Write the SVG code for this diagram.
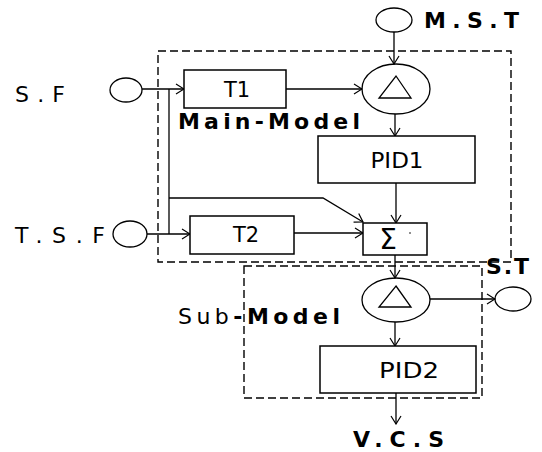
<svg xmlns="http://www.w3.org/2000/svg" width="542" height="452" viewBox="0 0 542 452">
<style>
.box{fill:#fff;stroke:#000;stroke-width:1.5}
.circ{fill:none;stroke:#000;stroke-width:1.3}
.dash{fill:none;stroke:#000;stroke-width:1.4;stroke-dasharray:8 4}
.ln{fill:none;stroke:#000;stroke-width:1.3}
.arr{marker-end:url(#ah)}
.lbl{font-family:"DejaVu Sans","Liberation Sans",sans-serif;font-size:22px;fill:#000}
.b{font-weight:bold}
.in{font-family:"DejaVu Sans","Liberation Sans",sans-serif;font-size:21px;fill:#000;text-anchor:middle}
.sig{font-family:"DejaVu Sans",sans-serif;font-size:28px;fill:#000;text-anchor:middle}
</style>
<defs>
<marker id="ah" markerWidth="10" markerHeight="12" refX="9" refY="6" orient="auto" markerUnits="userSpaceOnUse">
<path d="M1,1 L9,6 L1,11" fill="none" stroke="#000" stroke-width="1.2"/>
</marker>
</defs>
<g id="main-model-frame">
<rect class="dash" x="158" y="51" width="353" height="211"/>
<text class="lbl b" x="178" y="129" textLength="182" lengthAdjust="spacing">Main-Model</text>
</g>
<g id="sub-model-frame">
<rect class="dash" x="244" y="266" width="238" height="132"/>
<text class="lbl" x="178" y="324" textLength="162" lengthAdjust="spacing">Sub<tspan class="b">-Model</tspan></text>
</g>
<g id="connectors">
<path class="ln arr" d="M142,89 H184"/>
<path class="ln" d="M169,89 V234"/>
<path class="ln arr" d="M147,234 H190"/>
<path class="ln arr" d="M169,198 H323 L363,222"/>
<path class="ln arr" d="M286,89 H362"/>
<path class="ln arr" d="M394,32 V64"/>
<path class="ln arr" d="M395,114 V136"/>
<path class="ln arr" d="M396,183 V223"/>
<path class="ln arr" d="M294,233 H363"/>
<path class="ln arr" d="M395,255 V278"/>
<path class="ln arr" d="M430,299 H495"/>
<path class="ln arr" d="M395,322 V346"/>
<path class="ln arr" d="M396,393 V424"/>
</g>
<g id="sf">
<text class="lbl" x="15" y="102" textLength="50" lengthAdjust="spacing">S.F</text>
<ellipse class="circ" cx="126" cy="90" rx="16" ry="12"/>
</g>
<g id="tsf">
<text class="lbl" x="15" y="243" textLength="90" lengthAdjust="spacing">T.S.F</text>
<ellipse class="circ" cx="130" cy="234" rx="17" ry="13"/>
</g>
<g id="mst">
<ellipse class="circ" cx="394" cy="20" rx="18" ry="12"/>
<text class="lbl b" x="424" y="28" textLength="95" lengthAdjust="spacing">M.S.T</text>
</g>
<g id="t1">
<rect class="box" x="184" y="70" width="102" height="38"/>
<text class="in" x="237" y="97">T1</text>
</g>
<g id="t2">
<rect class="box" x="190" y="216" width="104" height="38"/>
<text class="in" x="246" y="242">T2</text>
</g>
<g id="delta1">
<ellipse class="circ" cx="396" cy="89" rx="34" ry="25"/>
<path class="ln" d="M396,76 L411,98 H379 Z" stroke-width="1.5"/>
</g>
<g id="pid1">
<rect class="box" x="318" y="136" width="157" height="47"/>
<text class="in" x="397" y="168" textLength="53" lengthAdjust="spacingAndGlyphs">PID1</text>
</g>
<g id="sigma">
<rect class="box" x="363" y="223" width="64" height="32"/>
<text class="sig" x="388" y="249">Σ</text>
<circle cx="410" cy="233" r="0.8" fill="#000"/>
</g>
<g id="delta2">
<ellipse class="circ" cx="396" cy="300" rx="34" ry="22"/>
<path class="ln" d="M396,286 L411,307 H379 Z" stroke-width="1.5"/>
</g>
<g id="st">
<text class="lbl b" x="486" y="274" textLength="43" lengthAdjust="spacing">S.T</text>
<ellipse class="circ" cx="513" cy="299" rx="18" ry="12"/>
</g>
<g id="pid2">
<rect class="box" x="320" y="346" width="156" height="47"/>
<text class="in" x="409" y="378" textLength="60" lengthAdjust="spacingAndGlyphs">PID2</text>
</g>
<g id="vcs">
<text class="lbl b" x="353" y="447" textLength="91" lengthAdjust="spacing">V.C.S</text>
</g>
</svg>
